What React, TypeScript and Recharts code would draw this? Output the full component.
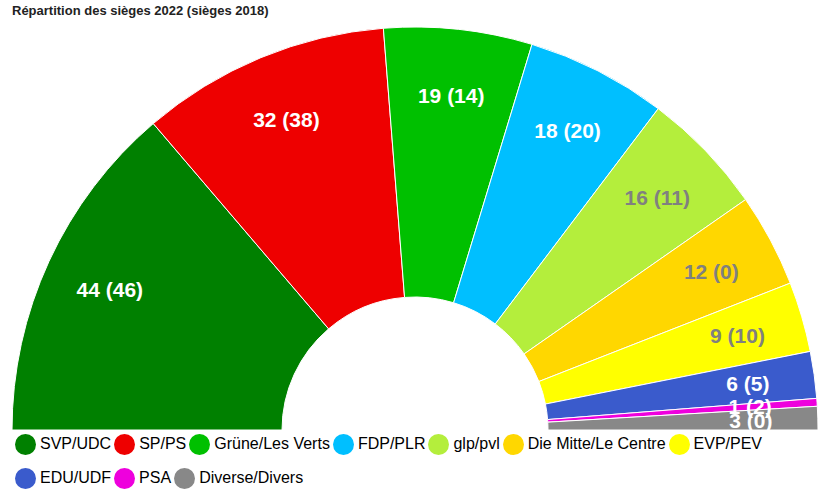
import React from 'react';
import { PieChart, Pie, Cell } from 'recharts';

// seats 2022, seats 2018
const parties = [
  "SVP/UDC", "SP/PS", "Grüne/Les Verts", "FDP/PLR", "glp/pvl",
  "Die Mitte/Le Centre", "EVP/PEV", "EDU/UDF", "PSA", "Diverse/Divers"
];
const seats2022 = [44, 32, 19, 18, 16, 12, 9, 6, 1, 3];
const seats2018 = [46, 38, 14, 20, 11, 0, 10, 5, 2, 0];
const colors = [
  "#008000", "#ee0000", "#00c000", "#00bfff", "#b4ee3c",
  "#ffd700", "#ffff00", "#3a5bcc", "#ee00dd", "#888888"
];
const labelColors = [
  "#ffffff", "#ffffff", "#ffffff", "#ffffff", "#808080",
  "#808080", "#808080", "#ffffff", "#ffffff", "#ffffff"
];

const data = parties.map((name, i) => ({
  name,
  value: seats2022[i],
  prev: seats2018[i],
}));

const RAD = Math.PI / 180;

const renderLabel = (props: any) => {
  const { cx, cy, midAngle, index } = props;
  const r = 336;
  const x = cx + r * Math.cos(-midAngle * RAD);
  const y = cy + r * Math.sin(-midAngle * RAD);
  return (
    <text
      x={x}
      y={y}
      fill={labelColors[index]}
      textAnchor="middle"
      dominantBaseline="central"
      style={{ fontFamily: 'Arial, "Liberation Sans", sans-serif', fontSize: 21, fontWeight: 'bold' }}
    >
      {`${seats2022[index]} (${seats2018[index]})`}
    </text>
  );
};

export default function App() {
  return (
    <div style={{ position: 'absolute', left: 0, top: 0, width: 828, height: 496, background: '#fff', fontFamily: 'Arial, "Liberation Sans", sans-serif' }}>
      <div style={{ position: 'absolute', left: 12, top: 3, fontSize: 13, fontWeight: 'bold', color: '#222' }}>
        Répartition des sièges 2022 (sièges 2018)
      </div>
      <PieChart width={828} height={496} margin={{ top: 0, right: 0, bottom: 0, left: 0 }}>
        <Pie
          data={data}
          dataKey="value"
          cx={415}
          cy={430}
          startAngle={180}
          endAngle={0}
          innerRadius={133}
          outerRadius={403}
          stroke="#ffffff"
          strokeWidth={1}
          label={renderLabel}
          labelLine={false}
          isAnimationActive={false}
        >
          {data.map((d, i) => (
            <Cell key={d.name} fill={colors[i]} />
          ))}
        </Pie>
      </PieChart>
      <div style={{ position: 'absolute', left: 15, top: 433, width: 800, display: 'flex', flexWrap: 'wrap', rowGap: 12 }}>
        {parties.map((p, i) => (
          <div key={p} style={{ display: 'flex', alignItems: 'center', marginRight: 3, height: 22 }}>
            <span style={{ display: 'inline-block', width: 21, height: 21, borderRadius: '50%', background: colors[i], marginRight: 4 }} />
            <span style={{ fontSize: 16, color: '#000' }}>{p}</span>
          </div>
        ))}
      </div>
    </div>
  );
}
